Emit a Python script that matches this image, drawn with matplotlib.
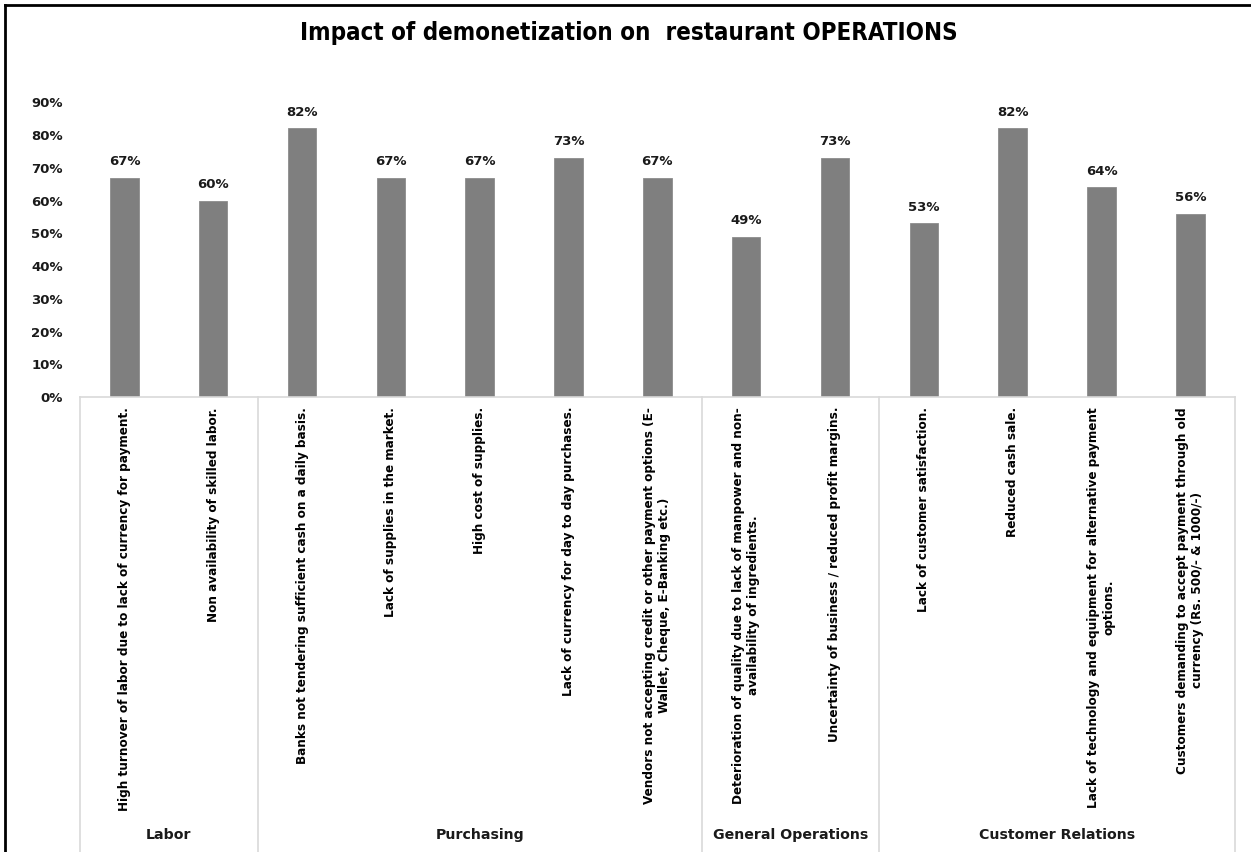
import numpy as np
import matplotlib
matplotlib.use("Agg")
import matplotlib.pyplot as plt
from matplotlib import font_manager
from matplotlib.transforms import blended_transform_factory

# data
groups = ["Labor", "Purchasing", "General Operations", "Customer Relations"]
group_sizes = [2, 5, 2, 4]
labels = [
    "High turnover of labor due to lack of currency for payment.",
    "Non availability of skilled labor.",
    "Banks not tendering sufficient cash on a daily basis.",
    "Lack of supplies in the market.",
    "High cost of supplies.",
    "Lack of currency for day to day purchases.",
    "Vendors not accepting credit or other payment options (E-\nWallet, Cheque, E-Banking etc.)",
    "Deterioration of quality due to lack of manpower and non-\navailability of ingredients.",
    "Uncertainty of business / reduced profit margins.",
    "Lack of customer satisfaction.",
    "Reduced cash sale.",
    "Lack of technology and equipment for alternative payment\noptions.",
    "Customers demanding to accept payment through old\ncurrency (Rs. 500/- & 1000/-)",
]
values = [0.67, 0.60, 0.82, 0.67, 0.67, 0.73, 0.67, 0.49, 0.73, 0.53, 0.82, 0.64, 0.56]
yticks = [0, 0.1, 0.2, 0.3, 0.4, 0.5, 0.6, 0.7, 0.8, 0.9]

names = {f.name for f in font_manager.fontManager.ttflist}
if "Liberation Sans Narrow" in names:
    narrow = dict(family="Liberation Sans Narrow")
else:
    narrow = dict(family="DejaVu Sans", fontstretch="condensed")

W, H = 1251, 852
fig = plt.figure(figsize=(W / 100, H / 100), dpi=100)
ax = fig.add_axes([80 / W, 1 - 397 / H, (1234.7 - 80) / W, (397 - 102.3) / H])

x = np.arange(len(values))
bars = ax.bar(x, values, width=0.32, color="#7f7f7f", edgecolor="#8c8c8c", linewidth=0.6)
ax.bar_label(bars, labels=[f"{v:.0%}" for v in values], padding=7,
             fontsize=9.5, fontweight="bold", color="#1a1a1a")

ax.set_xlim(-0.5, len(values) - 0.5)
ax.set_ylim(0, 0.9)
ax.set_yticks(yticks)
ax.set_yticklabels([f"{t:.0%}" for t in yticks], fontsize=9.5, fontweight="bold", color="#1a1a1a")
ax.tick_params(axis="y", length=0, pad=12.5)
ax.set_xticks([])
for s in ["top", "right", "left"]:
    ax.spines[s].set_visible(False)
ax.spines["bottom"].set_color("#d9d9d9")
ax.spines["bottom"].set_linewidth(1.2)

tr = blended_transform_factory(ax.transData, fig.transFigure)
axis_y = 1 - 397 / H

# category labels
for i, lab in enumerate(labels):
    ax.text(i, 1 - 407 / H, lab, transform=tr, rotation=90, ha="center", va="top",
            multialignment="center", fontsize=9.6, fontweight="bold", color="black",
            **narrow)

# group separators and names
edges = np.concatenate([[0], np.cumsum(group_sizes)]) - 0.5
for e in edges:
    ax.plot([e, e], [axis_y, 0], transform=tr, color="#d9d9d9", lw=1.2, clip_on=False)
for g, a, b in zip(groups, edges[:-1], edges[1:]):
    ax.text((a + b) / 2, 1 - 835 / H, g, transform=tr, ha="center", va="center",
            fontsize=10.2, fontweight="bold", color="#1a1a1a")

fig.text(629 / W, 1 - 33 / H, "Impact of demonetization on  restaurant OPERATIONS",
         ha="center", va="center", fontsize=17.3, fontweight="bold", color="black", **narrow)

# outer frame (top and left visible)
fig.add_artist(plt.Line2D([5 / W, 1], [1 - 5 / H, 1 - 5 / H], color="black", lw=2))
fig.add_artist(plt.Line2D([5 / W, 5 / W], [1 - 5 / H, 0], color="black", lw=2))

fig.savefig("out.png", dpi=100)
